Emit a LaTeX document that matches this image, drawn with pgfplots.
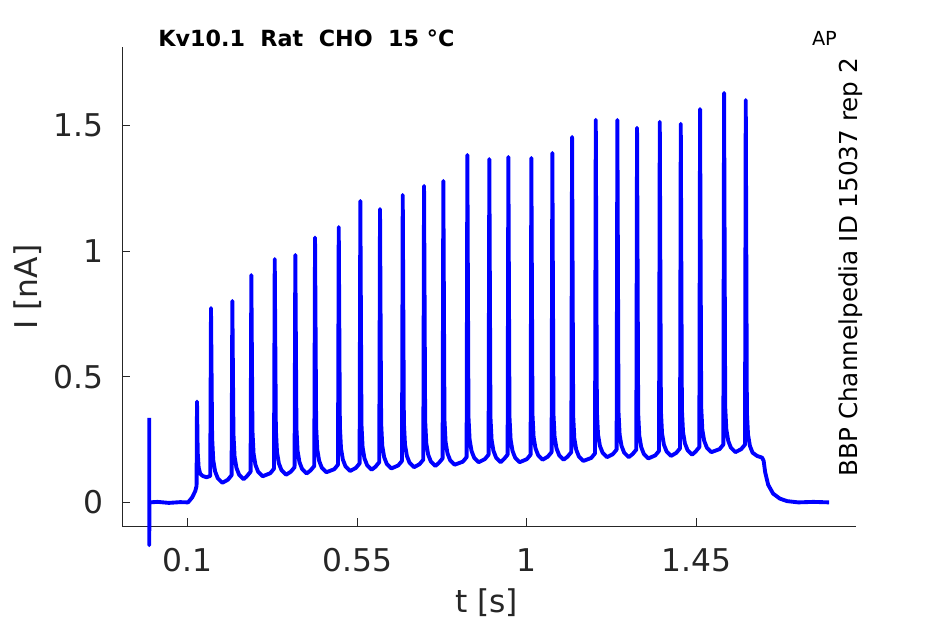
\documentclass[border=0pt]{standalone}
\usepackage{fontspec}
\setmainfont{DejaVu Sans}
\usepackage{pgfplots}
\pgfplotsset{compat=1.18}
\definecolor{axgray}{RGB}{38,38,38}
\definecolor{traceblue}{RGB}{0,0,255}
\begin{document}
\begin{tikzpicture}[x=1pt,y=1pt]
\path[use as bounding box] (0,0) rectangle (708.75,468);
\begin{axis}[
  at={(91.5pt,73.5pt)}, anchor=south west,
  scale only axis, width=550.5pt, height=359.25pt,
  xmin=-0.0743, xmax=1.873, ymin=-0.094, ymax=1.813,
  axis x line*=bottom, axis y line*=left,
  axis line style={axgray, line width=0.7pt, -},
  xtick={0.1,0.55,1,1.45}, ytick={0,0.5,1,1.5},
  xticklabels={0.1,0.55,1,1.45}, yticklabels={0,0.5,1,1.5},
  tick align=inside, major tick length=6pt,
  tick style={axgray, line width=0.7pt},
  ticklabel style={font=\fontsize{23.5}{26}\selectfont, text=axgray},
  yticklabel style={inner sep=0pt, anchor=east, xshift=-13.5pt},
  xticklabel style={inner sep=0pt, anchor=north, yshift=-16.5pt},
  clip=false,
]
\addplot[traceblue, line width=2.9pt, line join=round] coordinates {
(-0.0020,0.336) (-0.0020,-0.170) (-0.0015,0.000) (0.020,0.002) (0.050,-0.002) (0.080,0.001) (0.101,0.000) (0.112,0.020) (0.120,0.045) (0.1235,0.065)
(0.1247,0.401) (0.1265,0.200) (0.1290,0.140) (0.1330,0.115) (0.1400,0.105) (0.1500,0.100) (0.1598,0.105)
(0.1618,0.774) (0.1648,0.258) (0.1678,0.168) (0.1728,0.123) (0.1798,0.096) (0.1918,0.078) (0.2064,0.090) (0.2164,0.108)
(0.2184,0.802) (0.2214,0.272) (0.2244,0.182) (0.2294,0.137) (0.2364,0.110) (0.2484,0.092) (0.2568,0.104) (0.2668,0.122)
(0.2688,0.905) (0.2718,0.284) (0.2748,0.194) (0.2798,0.149) (0.2868,0.122) (0.2988,0.104) (0.3189,0.116) (0.3289,0.134)
(0.3309,0.969) (0.3339,0.290) (0.3369,0.200) (0.3419,0.155) (0.3489,0.128) (0.3609,0.110) (0.3735,0.122) (0.3835,0.140)
(0.3855,0.985) (0.3885,0.295) (0.3915,0.205) (0.3965,0.160) (0.4035,0.133) (0.4155,0.115) (0.4258,0.127) (0.4358,0.145)
(0.4378,1.054) (0.4408,0.300) (0.4438,0.210) (0.4488,0.165) (0.4558,0.138) (0.4678,0.120) (0.4887,0.132) (0.4987,0.150)
(0.5007,1.096) (0.5037,0.305) (0.5067,0.215) (0.5117,0.170) (0.5187,0.143) (0.5307,0.125) (0.5460,0.137) (0.5560,0.155)
(0.5580,1.200) (0.5610,0.310) (0.5640,0.220) (0.5690,0.175) (0.5760,0.148) (0.5880,0.130) (0.5982,0.142) (0.6082,0.160)
(0.6102,1.168) (0.6132,0.315) (0.6162,0.225) (0.6212,0.180) (0.6282,0.153) (0.6402,0.135) (0.6585,0.147) (0.6685,0.165)
(0.6705,1.224) (0.6735,0.320) (0.6765,0.230) (0.6815,0.185) (0.6885,0.158) (0.7005,0.140) (0.7150,0.152) (0.7250,0.170)
(0.7270,1.260) (0.7300,0.325) (0.7330,0.235) (0.7380,0.190) (0.7450,0.163) (0.7570,0.145) (0.7662,0.157) (0.7762,0.175)
(0.7782,1.280) (0.7812,0.330) (0.7842,0.240) (0.7892,0.195) (0.7962,0.168) (0.8082,0.150) (0.8299,0.162) (0.8399,0.180)
(0.8419,1.383) (0.8449,0.340) (0.8479,0.250) (0.8529,0.205) (0.8599,0.178) (0.8719,0.160) (0.8882,0.172) (0.8982,0.190)
(0.9002,1.367) (0.9032,0.340) (0.9062,0.250) (0.9112,0.205) (0.9182,0.178) (0.9302,0.160) (0.9387,0.172) (0.9487,0.190)
(0.9507,1.375) (0.9537,0.340) (0.9567,0.250) (0.9617,0.205) (0.9687,0.178) (0.9807,0.160) (0.9997,0.172) (1.0097,0.190)
(1.0117,1.371) (1.0147,0.350) (1.0177,0.260) (1.0227,0.215) (1.0297,0.188) (1.0417,0.170) (1.0554,0.182) (1.0654,0.200)
(1.0674,1.391) (1.0704,0.350) (1.0734,0.260) (1.0784,0.215) (1.0854,0.188) (1.0974,0.170) (1.1077,0.182) (1.1177,0.200)
(1.1197,1.455) (1.1227,0.345) (1.1257,0.255) (1.1307,0.210) (1.1377,0.183) (1.1497,0.165) (1.1706,0.177) (1.1806,0.195)
(1.1826,1.523) (1.1856,0.360) (1.1886,0.270) (1.1936,0.225) (1.2006,0.198) (1.2126,0.180) (1.2279,0.192) (1.2379,0.210)
(1.2399,1.523) (1.2429,0.360) (1.2459,0.270) (1.2509,0.225) (1.2579,0.198) (1.2699,0.180) (1.2801,0.192) (1.2901,0.210)
(1.2921,1.491) (1.2951,0.355) (1.2981,0.265) (1.3031,0.220) (1.3101,0.193) (1.3221,0.175) (1.3404,0.187) (1.3504,0.205)
(1.3524,1.515) (1.3554,0.365) (1.3584,0.275) (1.3634,0.230) (1.3704,0.203) (1.3824,0.185) (1.3961,0.197) (1.4061,0.215)
(1.4081,1.507) (1.4111,0.370) (1.4141,0.280) (1.4191,0.235) (1.4261,0.208) (1.4381,0.190) (1.4473,0.202) (1.4573,0.220)
(1.4593,1.566) (1.4623,0.380) (1.4653,0.290) (1.4703,0.245) (1.4773,0.218) (1.4893,0.200) (1.5110,0.212) (1.5210,0.230)
(1.5230,1.630) (1.5260,0.380) (1.5290,0.290) (1.5340,0.245) (1.5410,0.218) (1.5530,0.200) (1.5685,0.212) (1.5785,0.230)
(1.5805,1.602) (1.5835,0.360) (1.5865,0.270) (1.5915,0.225) (1.5985,0.198) (1.6105,0.185) (1.6240,0.178) (1.6280,0.165)
(1.6320,0.120) (1.6400,0.070) (1.6530,0.035) (1.6710,0.015) (1.6900,0.005) (1.7200,0.000) (1.7600,0.002) (1.8015,0.000)
};
\end{axis}
\node[anchor=base west, inner sep=0pt] at (118.5,433) {\bfseries\fontsize{16.7}{19}\selectfont Kv10.1\ \ Rat\ \ CHO\ \ 15 °C};
\node[anchor=base west, inner sep=0pt] at (608.8,433.5) {\fontsize{14.5}{17}\selectfont AP};
\node[anchor=base west, inner sep=0pt, rotate=90] at (643,110.5) {\fontsize{18.5}{22}\selectfont BBP Channelpedia ID 15037 rep 2};
\node[anchor=center, inner sep=0pt, rotate=90, text=axgray] at (21,252.75) {\fontsize{23.5}{26}\selectfont I [nA]};
\node[anchor=base, inner sep=0pt, text=axgray] at (365,9) {\fontsize{23.5}{26}\selectfont t [s]};
\end{tikzpicture}
\end{document}
